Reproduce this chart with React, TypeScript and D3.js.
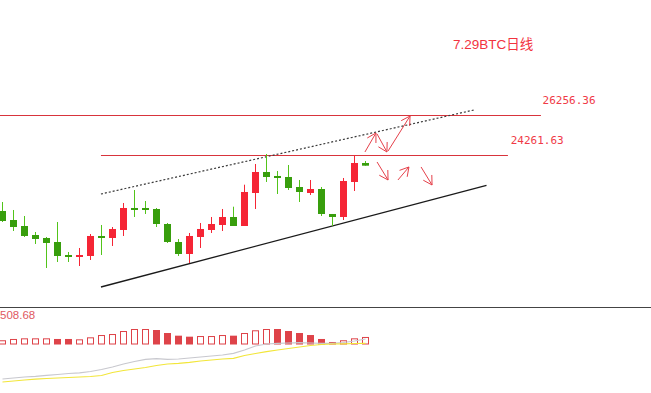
import React from 'react';
import * as d3 from 'd3';

// BTC daily candles, 06-26 .. 07-29
const dates = [
  '06-26', '06-27', '06-28', '06-29', '06-30', '07-01', '07-02', '07-03', '07-04', '07-05',
  '07-06', '07-07', '07-08', '07-09', '07-10', '07-11', '07-12', '07-13', '07-14', '07-15',
  '07-16', '07-17', '07-18', '07-19', '07-20', '07-21', '07-22', '07-23', '07-24', '07-25',
  '07-26', '07-27', '07-28', '07-29',
];
const open = [21469, 21020, 20721, 20272, 20123, 19923, 19275, 19175, 19225, 20223, 20123, 20522, 21619, 21619, 21569, 20821, 19923, 19325, 20173, 20522, 20771, 21170, 20721, 22367, 23414, 23215, 23165, 22666, 22367, 22566, 21320, 21170, 22916, 23863];
const high = [21918, 21519, 21220, 20422, 20173, 20921, 19425, 19624, 20322, 20771, 20671, 21868, 22517, 21968, 21619, 20871, 20073, 20372, 20871, 21170, 21569, 21684, 22781, 23813, 24312, 23464, 23763, 23015, 23015, 22666, 21320, 23115, 24262, 23963];
const low = [20921, 20472, 20173, 19824, 18627, 18926, 18926, 18726, 19026, 19275, 19724, 20223, 21170, 21320, 20671, 19874, 19225, 18876, 19624, 20372, 20472, 20721, 20721, 21569, 22916, 22317, 22517, 21918, 22267, 21220, 20721, 21020, 22467, 23728];
const close = [20970, 20671, 20223, 20073, 19874, 19225, 19175, 19275, 20223, 20123, 20572, 21619, 21519, 21519, 20821, 19923, 19325, 20223, 20572, 20821, 21170, 20721, 22417, 23414, 23165, 23115, 22616, 22417, 22566, 21320, 21170, 22965, 23863, 23728];

const volume = [59, 77, 86, 86, 86, 77, 77, 72, 100, 132, 146, 188, 216, 216, 202, 160, 123, 109, 118, 118, 132, 123, 160, 198, 216, 216, 188, 160, 132, 77, 35, 59, 86, 105];
const volSolid = [false, false, false, false, false, true, true, false, false, false, false, false, false, false, true, true, true, true, false, false, false, true, false, false, false, true, true, true, true, true, true, false, false, false];
const volMax = 508.68;

// lower indicator pane
const lineGrey = [14, 15, 16, 16.7, 17.7, 18.5, 19.5, 20.2, 21.5, 23.5, 26, 29, 31.5, 33.7, 34.3, 33.7, 34, 35, 36, 37, 38, 39.7, 43, 47, 49, 49.7, 50, 50.3, 50, 49.7, 49.7, 50.5, 52, 54];
const lineYellow = [11, 12, 13, 13.8, 14.5, 15, 15.5, 16, 16.5, 17.5, 20.5, 22.5, 24, 25.5, 27.5, 29, 29.7, 30.7, 32, 33, 34, 34.7, 37.5, 39.5, 41.3, 43, 44.5, 46, 47.5, 48.5, 49, 49.2, 49.5, 49.7];

// annotations (bar index, price)
const levels = [26256.36, 24261.63];
const levelFrom = [-0.3, 8.95];
const levelTo = [48.95, 45.95];
const levelLabelAt = [49.1, 46.2];
const channelTop = [[8.95, 22317], [42.86, 26506]];
const channelBottom = [[8.95, 17679], [44.0, 22751]];
const arrows = [
  [[32.95, 24412], [33.95, 25359]],
  [[34.05, 25309], [34.95, 24412]],
  [[35.05, 24461], [37.05, 26207]],
  [[34.05, 23913], [35.05, 23015]],
  [[35.95, 23015], [36.95, 23664]],
  [[38.05, 23664], [39.05, 22766]],
];
const title = '7.29BTC日线';

const W = 651;
const H = 393;
const RED = '#f52535';
const GREEN = '#389e0d';
const GREEN_WICK = '#52c41a';
const VOL = '#de4349';
const NOTE = '#e5404a';

const App: React.FC = () => {
  const x = d3.scalePoint<string>().domain(dates).range([2.5, 365.5]);
  const xi = d3.scaleLinear().domain([0, dates.length - 1]).range([2.5, 365.5]);
  const y = d3.scaleLinear().domain([levels[1], levels[0]]).range([155, 115]);
  const yv = d3.scaleLinear().domain([0, volMax]).range([344.5, 308]);
  const yi = d3.scaleLinear().domain([0, 50]).range([393, 343]);

  const ind = d3.line<number>().x((_, i) => xi(i)).y((d) => yi(d));
  const seg = (p: number[][]) => ({ x1: xi(p[0][0]), y1: y(p[0][1]), x2: xi(p[1][0]), y2: y(p[1][1]) });

  const arrowHead = (x1: number, y1: number, x2: number, y2: number) => {
    const a = Math.atan2(y1 - y2, x1 - x2);
    const L = 10;
    const s = Math.PI / 6;
    return `M${x2 + L * Math.cos(a - s)},${y2 + L * Math.sin(a - s)}L${x2},${y2}L${x2 + L * Math.cos(a + s)},${y2 + L * Math.sin(a + s)}`;
  };

  const bw = 7;

  return (
    <div style={{ position: 'fixed', left: 0, top: 0, width: W, height: H, background: '#fff' }}>
      <svg width={W} height={H} style={{ display: 'block' }}>
        <rect width={W} height={H} fill="#fff" />

        <text x={453} y={49} fill="#f2333f" fontSize={13.5} fontFamily="Liberation Sans, Noto Sans CJK SC, sans-serif">{title}</text>

        {/* horizontal levels */}
        {levels.map((lv, i) => {
          const yy = Math.round(y(lv)) + 0.5;
          return (
            <g key={i}>
              <line x1={xi(levelFrom[i])} x2={xi(levelTo[i])} y1={yy} y2={yy} stroke="#d8343c" strokeWidth={1} />
              <text x={xi(levelLabelAt[i])} y={yy - 12} fill="#f03a47" fontSize={11} fontFamily="DejaVu Sans Mono, monospace">{lv.toFixed(2)}</text>
            </g>
          );
        })}

        {/* channel */}
        <line {...seg(channelTop)} stroke="#3a3a3a" strokeWidth={1.2} strokeDasharray="2 2" />
        <line {...seg(channelBottom)} stroke="#1a1a1a" strokeWidth={1.3} />

        {/* candles */}
        {dates.map((d, i) => {
          const up = close[i] > open[i];
          const cx = x(d) as number;
          const top = y(Math.max(open[i], close[i]));
          const bot = y(Math.min(open[i], close[i]));
          const h = Math.max(1.5, bot - top);
          return (
            <g key={d}>
              <line x1={cx} x2={cx} y1={y(high[i])} y2={y(low[i])} stroke={up ? RED : GREEN_WICK} strokeWidth={1} />
              <rect x={cx - bw / 2} y={top} width={bw} height={h} fill={up ? RED : GREEN} />
            </g>
          );
        })}

        {/* arrows */}
        {arrows.map((a, i) => {
          const s = seg(a);
          return (
            <g key={i} stroke={NOTE} strokeWidth={1} fill="none">
              <line {...s} />
              <path d={arrowHead(s.x1, s.y1, s.x2, s.y2)} />
            </g>
          );
        })}

        {/* volume pane */}
        <line x1={0} x2={W} y1={307.5} y2={307.5} stroke="#444" strokeWidth={1} />
        <text x={0} y={319} fill="#e05a5f" fontSize={11.5} fontFamily="Liberation Sans, sans-serif">{volMax.toFixed(2)}</text>
        {dates.map((d, i) => {
          const cx = x(d) as number;
          const top = yv(volume[i]);
          const base = yv(0);
          return volSolid[i] ? (
            <rect key={d} x={cx - bw / 2} y={top} width={bw} height={base - top} fill={VOL} />
          ) : (
            <rect key={d} x={cx - bw / 2 + 0.5} y={top + 0.5} width={bw - 1} height={base - top - 1} fill="#fff" stroke={VOL} strokeWidth={1} />
          );
        })}

        <path d={ind(lineGrey) || ''} fill="none" stroke="#c8c8ce" strokeWidth={1.2} />
        <path d={ind(lineYellow) || ''} fill="none" stroke="#f2e63a" strokeWidth={1.2} />
      </svg>
    </div>
  );
};

export default App;
